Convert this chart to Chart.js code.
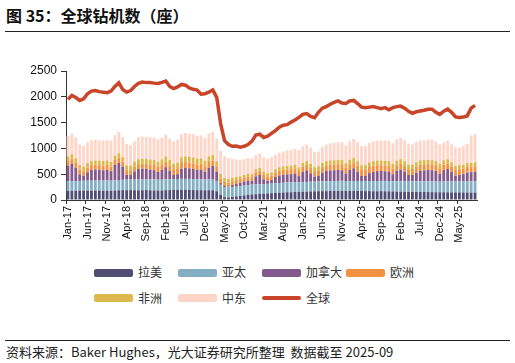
<!DOCTYPE html>
<html>
<head>
<meta charset="utf-8">
<script src="https://cdn.jsdelivr.net/npm/chart.js@4.4.0/dist/chart.umd.min.js"></script>
<style>
  body { margin: 0; width: 515px; height: 363px; position: relative; background: #fff; overflow: hidden;
         font-family: "Noto Sans CJK SC", "Noto Sans", sans-serif; }
  #title { position: absolute; left: 6px; top: 3px; font-size: 16px; font-weight: bold; color: #111; }
  .rule { position: absolute; left: 5px; width: 505px; height: 1px; background: #222; }
  #chart { position: absolute; left: 0; top: 0; }
  .item { position: absolute; font-size: 12px; color: #333; line-height: 14px; white-space: nowrap; }
  .sw { display: inline-block; width: 39px; height: 8px; border-radius: 2px; vertical-align: middle; margin-right: 5px; margin-top: -2px; }
  #foot { position: absolute; left: 6px; top: 342px; font-size: 13px; color: #222; white-space: nowrap; }
</style>
</head>
<body>
<div id="title">图 35：全球钻机数（座）</div>
<div class="rule" style="top:31px"></div>
<canvas id="chart" width="515" height="262"></canvas>
<div id="legend"></div>
<div class="rule" style="top:340px"></div>
<div id="foot">资料来源：Baker Hughes，光大证券研究所整理&nbsp;&nbsp;数据截至 2025-09</div>

<script>
// months Jan-17 .. Sep-25
const monthNames = ['Jan','Feb','Mar','Apr','May','Jun','Jul','Aug','Sep','Oct','Nov','Dec'];
const years = ['17','18','19','20','21','22','23','24','25'];
const labels = [];
years.forEach(y => monthNames.forEach(m => { if (labels.length < 105) labels.push(m + '-' + y); }));

const latam = [
  176,178,180,182,184,182,180,182,184,180,182,178,
  185,188,190,190,192,190,188,190,192,188,186,184,
  186,190,192,194,195,196,195,194,192,190,190,188,
  190,188,170,100,55,50,60,70,80,90,100,108,
  112,118,122,128,132,138,142,146,150,152,156,158,
  160,164,166,168,170,172,172,174,174,176,178,176,
  174,176,175,174,172,172,170,170,172,170,168,166,
  164,163,162,160,158,157,156,155,154,152,150,150,
  150,150,149,148,148,146,146,145,145
];
const apac = [
  190,188,186,188,190,192,194,195,194,196,198,196,
  198,200,202,204,205,206,208,208,210,210,212,210,
  208,210,210,212,212,214,214,215,214,212,212,210,
  208,205,200,195,195,192,190,188,188,188,190,190,
  190,188,186,185,186,186,188,188,190,190,190,188,
  186,186,188,188,190,190,192,192,192,194,194,192,
  190,192,192,194,194,196,196,198,198,200,200,198,
  198,200,202,202,204,204,206,206,208,208,208,206,
  208,210,210,212,212,214,214,214,215
];
const canada = [
  302,342,260,128,92,164,211,215,207,200,207,185,
  298,335,256,93,87,159,205,210,198,190,180,150,
  190,235,160,80,95,195,210,205,195,180,190,150,
  230,265,180,31,21,18,40,56,66,80,89,69,
  156,179,94,59,69,121,147,157,158,160,170,117,
  199,225,164,97,109,167,200,209,212,213,205,147,
  219,247,181,98,103,153,181,191,192,187,183,135,
  202,226,187,122,124,168,208,214,218,218,205,150,
  221,239,183,113,131,141,173,181,190
];
const europe = [
  92,94,95,93,92,90,88,88,90,92,94,92,
  94,96,95,93,92,94,96,98,100,100,102,100,
  104,106,108,110,112,112,114,112,110,110,108,106,
  108,106,100,90,82,78,76,74,72,72,74,76,
  78,80,82,84,86,88,90,92,94,96,98,98,
  100,102,104,104,106,108,108,110,112,112,114,112,
  112,114,116,116,118,118,116,114,114,112,112,110,
  110,112,112,114,114,116,116,114,114,112,110,110,
  110,108,108,106,106,104,104,104,104
];
const africa = [
  82,84,86,86,88,88,86,86,88,88,86,86,
  86,88,88,90,90,92,94,94,96,96,98,98,
  100,102,104,106,108,110,110,112,112,110,108,108,
  110,108,100,90,72,66,60,56,54,54,56,58,
  60,60,62,62,64,64,66,68,68,70,70,72,
  74,76,76,78,78,80,80,82,82,84,84,84,
  86,86,88,88,90,90,90,92,92,92,90,90,
  90,90,88,88,86,86,86,84,84,84,82,82,
  82,82,80,80,80,78,78,78,78
];
const middleEast = [
  398,400,400,396,400,405,398,402,388,398,392,412,
  395,410,390,415,398,392,428,432,428,434,430,434,
  420,423,415,435,448,446,455,448,450,438,445,445,
  444,445,440,447,421,405,370,345,320,305,300,300,
  270,275,280,285,290,280,282,288,305,305,310,330,
  320,318,316,290,285,315,322,330,338,342,345,348,
  365,365,368,375,378,382,385,385,385,390,395,400,
  410,410,408,405,390,392,380,385,392,396,380,378,
  345,360,345,360,340,360,370,530,540
];
const globalTotal = [
  1950,2025,1985,1930,1960,2060,2110,2120,2100,2090,2080,2110,
  2200,2270,2140,2090,2120,2200,2260,2285,2275,2275,2265,2260,
  2280,2305,2200,2160,2190,2240,2225,2170,2145,2130,2050,2060,
  2090,2135,1990,1480,1150,1075,1040,1045,1025,1040,1075,1140,
  1260,1275,1210,1235,1290,1345,1410,1450,1460,1510,1550,1600,
  1660,1675,1620,1595,1700,1780,1810,1855,1890,1920,1880,1870,
  1920,1930,1870,1800,1790,1800,1810,1790,1770,1790,1750,1790,
  1810,1820,1780,1720,1680,1710,1725,1740,1760,1760,1700,1660,
  1720,1760,1700,1610,1600,1610,1630,1780,1830
];

const barSeries = [
  { name: '拉美', data: latam, color: '#524d73' },
  { name: '亚太', data: apac, color: '#83aec4' },
  { name: '加拿大', data: canada, color: '#845a8c' },
  { name: '欧洲', data: europe, color: '#f39240' },
  { name: '非洲', data: africa, color: '#dcb94e' },
  { name: '中东', data: middleEast, color: '#ffd5c8' }
];
const lineColor = '#c9452a';

const datasets = barSeries.map(s => ({
  type: 'bar',
  label: s.name,
  data: s.data,
  backgroundColor: s.color,
  stack: 'regions',
  barPercentage: 0.72,
  categoryPercentage: 1,
  order: 1
}));
datasets.push({
  type: 'line',
  label: '全球',
  data: globalTotal,
  borderColor: lineColor,
  borderWidth: 3.5,
  pointRadius: 0,
  tension: 0,
  stack: 'total',
  order: 0
});

new Chart(document.getElementById('chart'), {
  data: { labels: labels, datasets: datasets },
  options: {
    responsive: false,
    animation: false,
    layout: { padding: { top: 71, right: 38, left: 0, bottom: 0 } },
    plugins: { legend: { display: false }, tooltip: { enabled: false } },
    scales: {
      x: {
        stacked: true,
        grid: {
          drawOnChartArea: false,
          tickLength: 4,
          color: c => (c.index % 5 === 0 ? '#333' : 'rgba(0,0,0,0)')
        },
        border: { color: '#333' },
        ticks: {
          autoSkip: false,
          minRotation: 90,
          maxRotation: 90,
          padding: 2,
          color: '#111',
          font: { family: 'Liberation Sans', size: 11 },
          callback: (v, i) => (i % 5 === 0 ? labels[i] : '')
        },
        afterFit: s => { s.height = 62; }
      },
      y: {
        stacked: true,
        min: 0,
        max: 2500,
        grid: { drawOnChartArea: false, tickLength: 5, color: '#333' },
        border: { color: '#333' },
        ticks: {
          stepSize: 500,
          padding: 4,
          color: '#111',
          font: { family: 'Liberation Sans', size: 12 },
          callback: v => String(v)
        },
        afterFit: s => { s.width = 66; }
      }
    }
  }
});

// legend
const legend = document.getElementById('legend');
const items = barSeries.map(s => ({ name: s.name, color: s.color, line: false }));
items.push({ name: '全球', color: lineColor, line: true });
items.forEach((it, k) => {
  const col = k < 4 ? k : k - 4;
  const row = k < 4 ? 0 : 1;
  const d = document.createElement('div');
  d.className = 'item';
  d.style.left = (94 + col * 84) + 'px';
  d.style.top = (265 + row * 25.5) + 'px';
  const sw = document.createElement('span');
  sw.className = 'sw';
  sw.style.background = it.color;
  if (it.line) { sw.style.height = '4px'; sw.style.borderRadius = '2px'; }
  d.appendChild(sw);
  d.appendChild(document.createTextNode(it.name));
  legend.appendChild(d);
});
</script>
</body>
</html>
